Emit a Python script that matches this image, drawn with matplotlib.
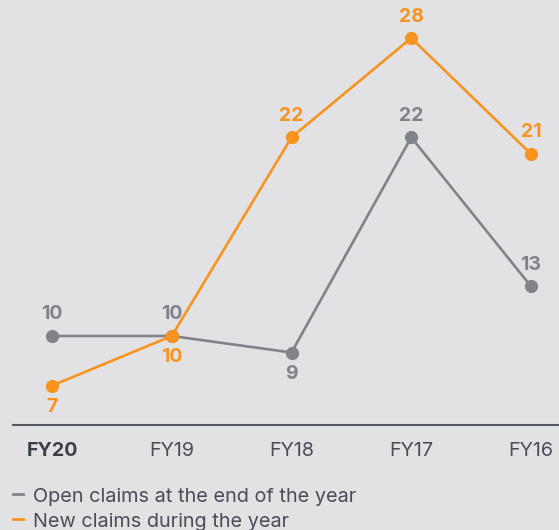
import matplotlib.pyplot as plt
from matplotlib.lines import Line2D

annees = ["FY20", "FY19", "FY18", "FY17", "FY16"]
ouvertes = [10, 10, 9, 22, 13]
nouvelles = [7, 10, 22, 28, 21]
# position des étiquettes : 1 = au-dessus, -1 = en dessous
pos_ouvertes = [1, 1, -1, 1, 1]
pos_nouvelles = [-1, -1, 1, 1, 1]

fond = "#e2e2e4"
gris = "#80838a"
orange = "#f7931e"
texte = "#4a4d55"

plt.rcParams["font.family"] = ["Inter", "DejaVu Sans"]

fig = plt.figure(figsize=(5.59, 5.30), dpi=100, facecolor=fond)
ax = fig.add_axes([13 / 559, 1 - 425 / 530, 1 - 13 / 559, 425 / 530])
ax.set_facecolor(fond)

x = list(range(len(annees)))
ax.plot(x, ouvertes, color=gris, lw=1.9, marker="o", ms=8.5, zorder=2, clip_on=False)
ax.plot(x, nouvelles, color=orange, lw=1.9, marker="o", ms=8.5, zorder=3, clip_on=False)

for i in x:
    ax.annotate(str(ouvertes[i]), (i, ouvertes[i]), xytext=(0, 15.5 * pos_ouvertes[i]),
                textcoords="offset points", ha="center", va="center",
                color=gris, fontsize=14, fontweight="bold")
    ax.annotate(str(nouvelles[i]), (i, nouvelles[i]), xytext=(0, 15.5 * pos_nouvelles[i]),
                textcoords="offset points", ha="center", va="center",
                color=orange, fontsize=14, fontweight="bold")

ax.set_xlim(-0.326, 4.234)
ax.set_ylim(4.62, 30.3)
for s in ["top", "right", "left"]:
    ax.spines[s].set_visible(False)
ax.spines["bottom"].set_color("#55585e")
ax.spines["bottom"].set_linewidth(1.5)
ax.set_yticks([])
ax.set_xticks(x)
ax.set_xticklabels(annees, fontsize=14.2, color=texte)
ax.tick_params(axis="x", length=0, pad=12)
ax.get_xticklabels()[0].set_fontweight("bold")
ax.get_xticklabels()[0].set_color("#3c3f47")

for y, c in [(494, gris), (519, orange)]:
    fig.add_artist(Line2D([13 / 559, 23 / 559], [1 - y / 530, 1 - y / 530],
                          color=c, lw=2, transform=fig.transFigure))
fig.text(33 / 559, 1 - 502 / 530, "Open claims at the end of the year", color=texte, fontsize=14.3, va="baseline", ha="left")
fig.text(33 / 559, 1 - 527 / 530, "New claims during the year", color=texte, fontsize=14.3, va="baseline", ha="left")

fig.savefig("out.png", dpi=100, facecolor=fond)
